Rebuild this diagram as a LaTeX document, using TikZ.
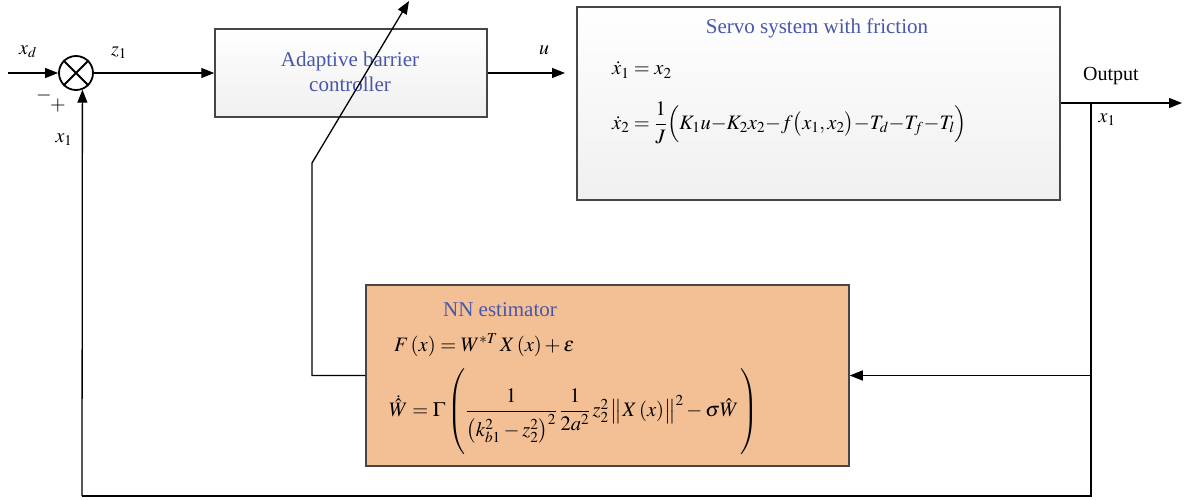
\documentclass[tikz,border=0pt]{standalone}
\usepackage{amsmath}
\usepackage{mathptmx}
\usepackage{fontspec}
\setmainfont{Liberation Serif}
\usetikzlibrary{arrows.meta,calc}
\definecolor{txtblue}{RGB}{72,86,172}
\definecolor{nnfill}{RGB}{243,191,148}
\definecolor{boxline}{RGB}{70,70,70}
\tikzset{
  wire/.style={line width=1.3pt,draw=black},
  arr/.style={wire,-{Triangle[length=13pt,width=10pt]}},
  greybox/.style={draw=boxline,line width=1.5pt,top color=white,bottom color=black!6,inner sep=0pt},
  nnbox/.style={draw=boxline,line width=1.5pt,fill=nnfill,inner sep=0pt},
  title/.style={text=txtblue,font=\fontsize{21}{25}\selectfont,align=center},
  lbl/.style={font=\fontsize{20}{24}\selectfont,inner sep=0pt},
  eq/.style={font=\fontsize{20.5}{24}\selectfont,anchor=west,inner sep=0pt},
}
\begin{document}
\begin{tikzpicture}[x=1pt,y=-1pt]
\useasboundingbox (0,0) rectangle (1189,500);
% blocks
\node[greybox,minimum width=272pt,minimum height=88pt] (ctrl) at (351,73) {};
\node[title] (ctrltxt) at (350,72) {Adaptive barrier\\controller};
\node[greybox,minimum width=483pt,minimum height=193pt] (servo) at (818.5,103.5) {};
\node[title] (servotxt) at (817,28) {Servo system with friction};
\node[nnbox,minimum width=483pt,minimum height=181pt] (nn) at (607.5,375.5) {};
\node[title] (nntxt) at (500,310) {NN estimator};
% equations
\node[eq] (e1) at (612,70) {$\dot x_1 = x_2$};
\node[eq] (e2) at (612,123) {$\dot x_2 = \dfrac{1}{J}\Bigl(K_1u{-}K_2x_2{-}f\bigl(x_1,x_2\bigr){-}T_d{-}T_f{-}T_l\Bigr)$};
\node[eq] (e3) at (394,345) {$F\,(x) = W^{*T}\,X\,(x) + \varepsilon$};
\node[eq] (e4) at (389,412) {$\dot{\hat W} = \Gamma\left(\vphantom{\dfrac{1}{\Bigl(k^2_{b1}\Bigr)^2}}\dfrac{1}{\bigl(k_{b1}^2 - z_2^2\bigr)^2}\,\dfrac{1}{2a^2}\,z_2^2\,\bigl\|X\,(x)\bigr\|^2 - \sigma\hat W\,\right)$};
% summing junction
\node[circle,draw,line width=1.8pt,minimum size=34pt,inner sep=0pt] (sum) at (76,73) {};
\draw[line width=1.8pt] (sum.45) -- (sum.225) (sum.135) -- (sum.-45);
% coordinates
\coordinate (xdin) at (8,73);
\coordinate (uend) at (565,73);
\coordinate (outend) at (1182,103);
\coordinate (branch) at (1091,103);
\coordinate (fbr) at (1091,496);
\coordinate (fbl) at (82,496);
\coordinate (bend) at (312,163);
\coordinate (tip) at (409,1);
% connectors
\draw[arr] (xdin) -- (sum.west);
\draw[arr] (sum.east) -- (ctrl.west);
\draw[arr] (ctrl.east) -- (uend);
\draw[arr] (servo.east |- branch) -- (outend);
\draw[arr] (branch) |- (nn.east);
\draw[wire] (branch) -- (fbr) -- (fbl);
\draw[arr] (fbl) -- (sum.-69);
\draw[arr] (nn.west) -| (bend) -- (tip);
% labels
\node[lbl] (lxd) at (28,52) {$x_d$};
\node[lbl] (lz1) at (119,53) {$z_1$};
\node[lbl] (lminus) at (44,96) {$-$};
\node[lbl] (lplus) at (58,106) {$+$};
\node[lbl] (lx1a) at (64,140) {$x_1$};
\node[lbl] (lu) at (544,50) {$u$};
\node[lbl] (lout) at (1111,76) {Output};
\node[lbl] (lx1b) at (1107,120) {$x_1$};
\end{tikzpicture}
\end{document}
